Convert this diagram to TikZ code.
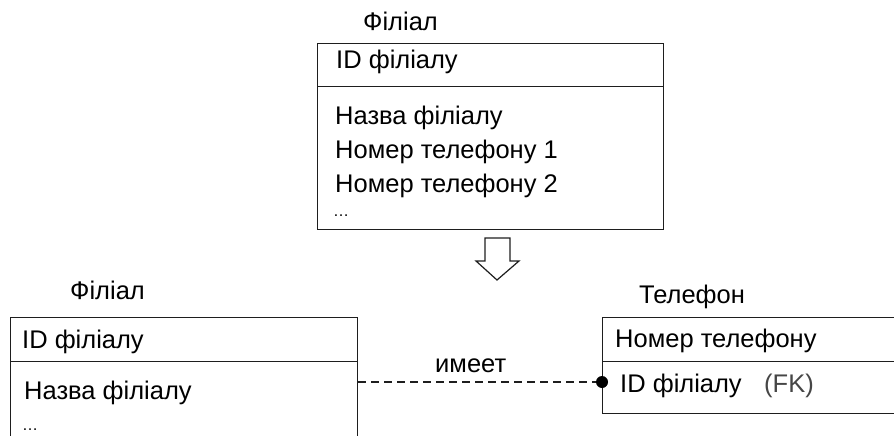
\documentclass[tikz,border=0pt]{standalone}
\usepackage{fontspec}
\setmainfont{Liberation Sans}
\usepackage{xcolor}
\usetikzlibrary{arrows.meta, positioning, calc}
\definecolor{erline}{RGB}{30,30,30}
\definecolor{fkgray}{RGB}{70,70,70}

\begin{document}
\begin{tikzpicture}[x=1pt, y=-1pt,
    part/.style={draw=erline, line width=1.2pt, anchor=north west, inner sep=0pt,
                 minimum width=#1},
    attr/.style={anchor=base west, inner sep=0pt, font=\fontsize{25.5}{30}\selectfont},
    dots/.style={anchor=base west, inner sep=0pt, font=\fontsize{16}{20}\selectfont},
    link/.style={draw=erline, line width=1.2pt, dash pattern=on 8pt off 5pt},
    dot/.style={circle, fill=black, inner sep=0pt, minimum size=12pt}
  ]
    \useasboundingbox (0,0) rectangle (894,436);

    % source entity
    \node[part=346pt, minimum height=43pt] (th) at (317,43) {};
    \node[part=346pt, minimum height=143pt] (tb) at (317,86) {};
    \node[attr] (tt) at (363,31) {Філіал};
    \node[attr] (t1) at (336,68) {ID філіалу};
    \node[attr] (t2) at (335,124) {Назва філіалу};
    \node[attr] (t3) at (335,158) {Номер телефону 1};
    \node[attr] (t4) at (335,192) {Номер телефону 2};
    \node[dots] (t5) at (333,216) {…};

    % transform arrow
    \draw[erline, line width=1.2pt] (485,238) -- (510,238) -- (510,261) -- (519,261)
      -- (497,280) -- (476,261) -- (485,261) -- cycle;

    % Філіал
    \node[part=347pt, minimum height=44pt] (lh) at (10,317) {};
    \node[part=347pt, minimum height=100pt] (lb) at (10,361) {};
    \node[attr] (lt) at (70,299) {Філіал};
    \node[attr] (l1) at (22,348) {ID філіалу};
    \node[attr] (l2) at (24,399) {Назва філіалу};
    \node[dots] (l3) at (22,430) {…};

    % Телефон
    \node[part=300pt, minimum height=44pt] (rh) at (602,317) {};
    \node[part=300pt, minimum height=52pt] (rb) at (602,361) {};
    \node[attr] (rt) at (639,303) {Телефон};
    \node[attr] (r1) at (615,347) {Номер телефону};
    \node[attr] (r2) at (620,392) {ID філіалу};
    \node[attr, text=fkgray] (r3) at (764,392) {(FK)};

    % relationship
    \node[dot] (d) at (602,382) {};
    \draw[link] (lb.east |- d) -- (d);
    \node[attr] (rel) at (435,372) {имеет};
  \end{tikzpicture}
\end{document}
